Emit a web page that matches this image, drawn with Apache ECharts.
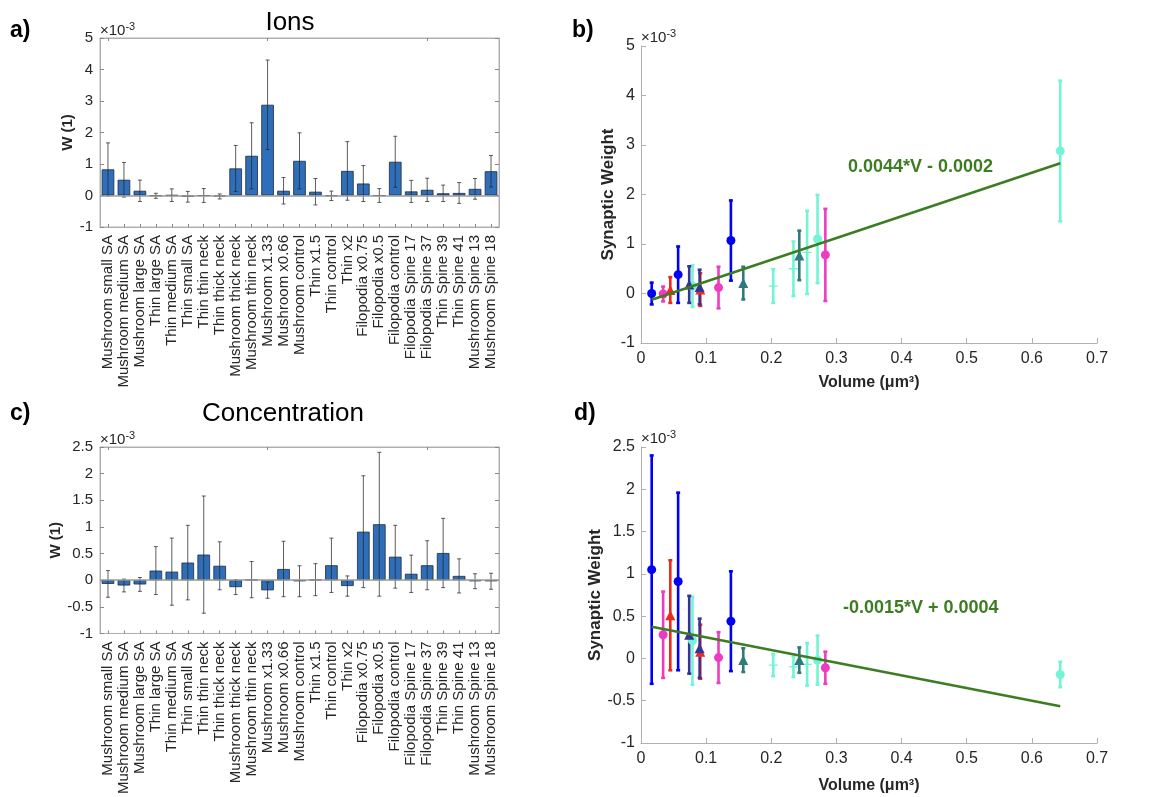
<!DOCTYPE html>
<html>
<head>
<meta charset="utf-8">
<script src="https://cdn.jsdelivr.net/npm/echarts@6/dist/echarts.min.js"></script>
<style>
  html, body { margin: 0; padding: 0; background: #ffffff; }
  #chart { width: 1149px; height: 797px; }
</style>
</head>
<body>
<div id="chart"></div>
<script>
// Spine geometries (shared by both bar panels)
const categories = [
  'Mushroom small SA', 'Mushroom medium SA', 'Mushroom large SA',
  'Thin large SA', 'Thin medium SA', 'Thin small SA',
  'Thin thin neck', 'Thin thick neck', 'Mushroom thick neck', 'Mushroom thin neck',
  'Mushroom x1.33', 'Mushroom x0.66', 'Mushroom control',
  'Thin x1.5', 'Thin control', 'Thin x2',
  'Filopodia x0.75', 'Filopodia x0.5', 'Filopodia control',
  'Filopodia Spine 17', 'Filopodia Spine 37', 'Thin Spine 39', 'Thin Spine 41',
  'Mushroom Spine 13', 'Mushroom Spine 18'
];

// Synaptic weight, in units of 1e-3
const ionsMean = [0.83, 0.50, 0.15, -0.01, 0.01, -0.04, 0.00, -0.03, 0.86, 1.26,
  2.88, 0.15, 1.10, 0.12, -0.01, 0.78, 0.38, 0.00, 1.07, 0.13, 0.18, 0.07, 0.08, 0.21, 0.77];
const ionsErr = [0.84, 0.55, 0.34, 0.08, 0.20, 0.17, 0.22, 0.08, 0.73, 1.05,
  1.42, 0.42, 0.89, 0.42, 0.15, 0.93, 0.57, 0.22, 0.81, 0.35, 0.37, 0.26, 0.33, 0.33, 0.50];
const concMean = [-0.07, -0.10, -0.08, 0.18, 0.16, 0.33, 0.48, 0.27, -0.13, 0.01,
  -0.19, 0.21, -0.02, 0.01, 0.28, -0.11, 0.91, 1.05, 0.44, 0.12, 0.28, 0.51, 0.08, -0.02, -0.02];
const concErr = [0.25, 0.12, 0.13, 0.45, 0.63, 0.70, 1.10, 0.45, 0.14, 0.34,
  0.15, 0.52, 0.29, 0.30, 0.51, 0.19, 1.05, 1.35, 0.59, 0.35, 0.46, 0.65, 0.32, 0.14, 0.15];

// Spine volume in um^3 (null = geometry not used in the volume regression)
const volumes = [0.255, 0.234, 0.203, null, null, null, null, null, null, null,
  0.6436, 0.079, 0.271, 0.119, 0.034, 0.283, 0.057, 0.0164, 0.138, 0.090, 0.074,
  0.045, 0.091, 0.157, 0.243];

// Linear fits W = slope*V + intercept
const ionsFit = { slope: 0.0044, intercept: -0.0002 };
const concFit = { slope: -0.0015, intercept: 0.0004 };

const yTicksIons = { min: -1, max: 5, interval: 1 };
const yTicksConc = { min: -1, max: 2.5, interval: 0.5 };
const xTicksVolume = { min: 0, max: 0.7, interval: 0.1 };

// Marker families: indices into categories
const PLUS = 'path://M0,3.4H8V4.6H0Z M3.4,0H4.6V8H3.4Z';
const markerGroups = [
  { members: [0, 1, 2], color: '#74f4d6', symbol: PLUS, size: 9 },
  { members: [10, 11, 12], color: '#74f4d6', symbol: 'circle', size: 9 },
  { members: [23, 24], color: '#2f7a7c', symbol: 'triangle', size: 10 },
  { members: [13, 14, 15], color: '#ee3cc2', symbol: 'circle', size: 9 },
  { members: [21, 22], color: '#ee2a1e', symbol: 'triangle', size: 10 },
  { members: [16, 17, 18], color: '#0000f5', symbol: 'circle', size: 9 },
  { members: [19, 20], color: '#343496', symbol: 'triangle', size: 10 }
];

const FONT = "'Liberation Sans', Arial, Helvetica, sans-serif";
const TXT = '#262626';
const AXC = '#b0b0b0';

const grids = [
  { left: 100, top: 38, width: 399, height: 189 },   // a
  { left: 100, top: 447, width: 399, height: 190 },  // c
  { left: 641, top: 46, width: 456, height: 297 },   // b
  { left: 641, top: 447, width: 456, height: 296 }   // d
].map((g, i) => Object.assign(g, i < 2 ? { show: true, borderColor: AXC, borderWidth: 1 } : {}));

function errRender(capHalf, width, color) {
  return function (params, api) {
    const x = api.value(0);
    const lo = api.coord([x, api.value(1)]);
    const hi = api.coord([x, api.value(2)]);
    const st = { stroke: color, lineWidth: width };
    return {
      type: 'group',
      children: [
        { type: 'line', shape: { x1: lo[0], y1: lo[1], x2: hi[0], y2: hi[1] }, style: st },
        { type: 'line', shape: { x1: lo[0] - capHalf, y1: lo[1], x2: lo[0] + capHalf, y2: lo[1] }, style: st },
        { type: 'line', shape: { x1: hi[0] - capHalf, y1: hi[1], x2: hi[0] + capHalf, y2: hi[1] }, style: st }
      ]
    };
  };
}

function catAxis(grid, pos) {
  const bottom = pos === 'bottom';
  return {
    type: 'category', gridIndex: grid, position: pos, data: categories,
    axisLine: { show: true, onZero: false, lineStyle: { color: AXC } },
    axisTick: { show: true, inside: true, alignWithLabel: true, length: 3, lineStyle: { color: '#888' } },
    axisLabel: bottom ? { show: true, rotate: 90, interval: 0, fontSize: 15, fontFamily: FONT, color: TXT, margin: 8 } : { show: false },
    splitLine: { show: false }
  };
}

function valAxisBar(grid, ticks, pos, name) {
  const left = pos === 'left';
  return Object.assign({
    type: 'value', gridIndex: grid, position: pos,
    axisLine: { show: true, onZero: false, lineStyle: { color: AXC } },
    axisTick: { show: true, inside: true, length: 4, lineStyle: { color: '#888' } },
    axisLabel: left ? { show: true, fontSize: 15, fontFamily: FONT, color: TXT, margin: 7 } : { show: false },
    splitLine: { show: false }
  }, ticks, left ? {
    name: name, nameLocation: 'middle', nameGap: 21, nameRotate: 90,
    nameTextStyle: { fontSize: 15, fontWeight: 'bold', fontFamily: FONT, color: TXT }
  } : {});
}

function volAxis(grid, gap) {
  return Object.assign({
    type: 'value', gridIndex: grid, position: 'bottom',
    name: 'Volume (μm³)', nameLocation: 'middle', nameGap: gap,
    nameTextStyle: { fontSize: 16, fontWeight: 'bold', fontFamily: FONT, color: TXT },
    axisLine: { show: true, onZero: false, lineStyle: { color: AXC } },
    axisTick: { show: true, inside: true, length: 5, lineStyle: { color: AXC } },
    axisLabel: { show: true, fontSize: 16, fontFamily: FONT, color: TXT, margin: 8 },
    splitLine: { show: false }
  }, xTicksVolume);
}

function weightAxis(grid, ticks, gap) {
  return Object.assign({
    type: 'value', gridIndex: grid, position: 'left',
    name: 'Synaptic Weight', nameLocation: 'middle', nameGap: gap, nameRotate: 90,
    nameTextStyle: { fontSize: 17, fontWeight: 'bold', fontFamily: FONT, color: TXT },
    axisLine: { show: true, onZero: false, lineStyle: { color: AXC } },
    axisTick: { show: true, inside: true, length: 5, lineStyle: { color: AXC } },
    axisLabel: { show: true, fontSize: 16, fontFamily: FONT, color: TXT, margin: 6 },
    splitLine: { show: false }
  }, ticks);
}

const xAxis = [
  catAxis(0, 'bottom'), catAxis(0, 'top'),
  catAxis(1, 'bottom'), catAxis(1, 'top'),
  volAxis(2, 32), volAxis(3, 35)
];
const yAxis = [
  valAxisBar(0, yTicksIons, 'left', 'W (1)'), valAxisBar(0, yTicksIons, 'right'),
  valAxisBar(1, yTicksConc, 'left', 'W (1)'), valAxisBar(1, yTicksConc, 'right'),
  weightAxis(2, yTicksIons, 24), weightAxis(3, yTicksConc, 37)
];

function barPanel(xi, yi, mean, err) {
  return [
    {
      type: 'bar', xAxisIndex: xi, yAxisIndex: yi, data: mean, barWidth: '79%',
      itemStyle: { color: '#2f6eb8', borderColor: '#1c2c44', borderWidth: 0.8 },
      markLine: {
        silent: true, symbol: 'none', label: { show: false },
        lineStyle: { color: '#9a9a9a', type: 'solid', width: 1.5 },
        data: [{ yAxis: 0 }]
      },
      z: 2
    },
    {
      type: 'custom', xAxisIndex: xi, yAxisIndex: yi, z: 4,
      data: mean.map((m, i) => [i, m - err[i], m + err[i]]),
      renderItem: errRender(2, 1, 'rgba(40,40,40,0.75)')
    }
  ];
}

function scatterPanel(xi, yi, mean, err, fit) {
  const out = [];
  markerGroups.forEach(g => {
    const idx = g.members;
    out.push({
      type: 'custom', xAxisIndex: xi, yAxisIndex: yi, z: 3,
      data: idx.map(i => [volumes[i], mean[i] - err[i], mean[i] + err[i]]),
      renderItem: errRender(2, 2.6, g.color)
    });
    out.push({
      type: 'scatter', xAxisIndex: xi, yAxisIndex: yi, z: 4,
      symbol: g.symbol, symbolSize: g.size,
      itemStyle: { color: g.color, opacity: 1 },
      data: idx.map(i => [volumes[i], mean[i]])
    });
  });
  const vs = volumes.filter(v => v !== null);
  const vmin = Math.min(...vs), vmax = Math.max(...vs);
  const f = v => (fit.slope * v + fit.intercept) * 1000;
  out.push({
    type: 'line', xAxisIndex: xi, yAxisIndex: yi, z: 6, symbol: 'none',
    lineStyle: { color: '#3c7d22', width: 2.6 },
    data: [[vmin, f(vmin)], [vmax, f(vmax)]]
  });
  return out;
}

function fitText(fit) {
  const s = fit.slope.toFixed(4), b = Math.abs(fit.intercept).toFixed(4);
  return s + '*V ' + (fit.intercept < 0 ? '-' : '+') + ' ' + b;
}

const series = [].concat(
  barPanel(0, 0, ionsMean, ionsErr),
  barPanel(2, 2, concMean, concErr),
  scatterPanel(4, 4, ionsMean, ionsErr, ionsFit),
  scatterPanel(5, 5, concMean, concErr, concFit)
);

function txt(x, y, text, size, weight, color, align) {
  return {
    type: 'text', x: x, y: y, silent: true,
    style: { text: text, fontSize: size, fontWeight: weight || 'normal', fontFamily: FONT,
      fill: color || '#000', align: align || 'left', verticalAlign: 'middle' }
  };
}
function expo(x, y) {
  return {
    type: 'text', x: x, y: y, silent: true,
    style: {
      text: '{a|×10}{b|-3}', verticalAlign: 'middle', fontFamily: FONT,
      rich: {
        a: { fontSize: 15, fontFamily: FONT, fill: TXT, color: TXT },
        b: { fontSize: 11, fontFamily: FONT, fill: TXT, color: TXT, verticalAlign: 'bottom', padding: [0, 0, 9, 0] }
      }
    }
  };
}

const graphic = [
  txt(10, 31, 'a)', 23, 'bold', '#000'),
  txt(572, 31, 'b)', 23, 'bold', '#000'),
  txt(10, 414, 'c)', 23, 'bold', '#000'),
  txt(574, 414, 'd)', 23, 'bold', '#000'),
  txt(290, 23, 'Ions', 26, 'normal', '#000', 'center'),
  txt(283, 414, 'Concentration', 26, 'normal', '#000', 'center'),
  expo(100, 31), expo(100, 440), expo(641, 38), expo(641, 439),
  txt(848, 167, fitText(ionsFit), 18, 'bold', '#3c7d22'),
  txt(843, 608, fitText(concFit), 18, 'bold', '#3c7d22')
];

const chart = echarts.init(document.getElementById('chart'), null, { renderer: 'canvas' });
chart.setOption({
  animation: false,
  backgroundColor: '#ffffff',
  grid: grids,
  xAxis: xAxis,
  yAxis: yAxis,
  series: series,
  graphic: graphic
});
</script>
</body>
</html>
